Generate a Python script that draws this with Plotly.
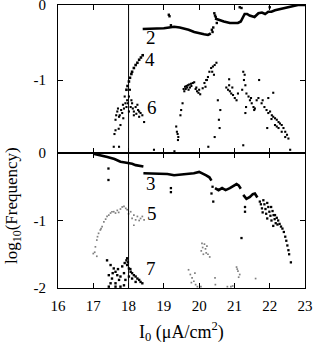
import plotly.graph_objects as go

# ---------------- top panel ----------------
s2_curve_x = [18.40, 18.6, 18.8, 19.0, 19.15, 19.29, 19.45, 19.57, 19.7, 19.86, 20.0, 20.14, 20.25, 20.33, None,
              20.45, 20.55, 20.7, 20.87, 21.0, 21.1, 21.18, 21.24, 21.29, 21.36, 21.43, 21.57, 21.63, 21.68, 21.78,
              21.87, 21.96, 22.05, 22.15, 22.34, 22.53, 22.67, 22.8, 23.0]
s2_curve_y = [-0.32, -0.32, -0.31, -0.31, -0.30, -0.29, -0.30, -0.31, -0.33, -0.36, -0.38, -0.39, -0.40, -0.38, None,
              -0.18, -0.20, -0.22, -0.24, -0.24, -0.24, -0.22, -0.17, -0.12, -0.12, -0.14, -0.16, -0.13, -0.11, -0.10,
              -0.12, -0.09, -0.09, -0.07, -0.05, -0.03, -0.01, 0.0, 0.0]
s2_pts_x = [19.14, 19.16, 19.2, 20.43, 20.45, 20.47, 20.5, 20.4, 21.15, 21.2, 22.0, 20.36, 20.38]
s2_pts_y = [-0.13, -0.15, -0.27, -0.11, -0.14, -0.16, -0.24, -0.30, -0.03, -0.04, -0.03, -0.33, -0.36]

s4_x = [17.94, 17.97, 18.01, 18.04, 18.08, 18.1, 18.15, 18.2, 18.25, 18.3, 18.35, 18.4]
s4_y = [-1.13, -1.08, -1.02, -0.97, -0.92, -0.89, -0.84, -0.80, -0.77, -0.73, -0.70, -0.67]

s6_x = [17.58, 17.73, 17.63, 17.77, 17.63, 17.75, 17.68, 17.79, 17.87, 17.91, 17.96, 18.01, 17.89, 17.94, 18.06,
        18.10, 18.15, 18.20, 18.25, 18.30, 18.34, 18.39, 18.44, 18.15, 18.30, 17.82, 17.73, 17.65, 17.85, 18.01,
        18.08, 18.04, 17.70, 17.84, 18.12, 18.22, 17.98, 17.60, 17.72, 18.27,
        18.72, 19.3, 19.35, 19.37, 19.39, 19.41, 19.40, 19.47, 19.49, 19.53,
        19.56, 19.6, 19.64, 19.68, 19.72, 19.77, 19.82, 19.86, 19.62, 19.66, 19.7, 19.78, 19.9, 19.94, 19.98,
        20.03, 20.0, 19.92, 19.58, 19.74,
        20.10, 20.15, 20.2, 20.25, 20.29, 20.34, 20.39, 20.44, 20.49, 20.37, 20.42, 20.18, 20.22,
        20.53, 20.6, 20.56, 20.58, 20.44, 20.26,
        20.77, 20.82, 20.87, 20.91, 20.96, 21.01, 21.06, 20.94, 20.85, 21.1, 20.85,
        21.25, 21.29, 21.27, 21.31, 21.22, 21.34, 21.7, 21.33, 21.31, 21.25,
        21.4, 21.44, 21.49, 21.54, 21.58, 21.47, 21.63, 21.68, 21.56, 22.1, 21.96,
        21.77, 21.85, 21.91, 21.96, 22.01, 22.06, 22.1, 22.15, 22.2, 22.25, 22.29, 22.34, 22.39, 22.44, 22.49,
        22.53, 22.58, 22.15, 22.25, 22.34, 22.44, 21.93, 22.05, 22.2, 21.8]
s6_y = [-1.89, -1.89, -1.67, -1.60, -1.53, -1.47, -1.42, -1.40, -1.38, -1.31, -1.27, -1.22, -1.22, -1.36, -1.36,
        -1.31, -1.42, -1.36, -1.33, -1.42, -1.44, -1.47, -1.56, -1.47, -1.49, -1.44, -1.49, -1.47, -1.51, -1.42,
        -1.27, -1.13, -1.38, -1.33, -1.38, -1.45, -1.31, -1.72, -1.65, -1.40,
        -1.93, -1.95, -1.62, -1.69, -1.72, -1.76, -1.80, -1.47, -1.40, -1.31,
        -1.12, -1.09, -1.08, -1.07, -1.06, -1.05, -1.04, -1.03, -1.12, -1.10, -1.13, -1.08, -1.12, -1.15, -1.17,
        -1.19, -1.13, -1.10, -1.15, -1.10,
        -1.11, -1.04, -1.00, -0.96, -0.89, -0.84, -0.82, -0.80, -0.77, -0.89, -0.93, -1.09, -1.00,
        -1.27, -1.40, -1.53, -1.64, -1.76, -1.89,
        -1.10, -1.13, -1.15, -1.18, -1.20, -1.24, -1.27, -1.10, -1.07, -1.18, -0.99,
        -0.89, -0.93, -1.00, -1.07, -1.13, -1.18, -1.00, -1.36, -1.44, -1.87,
        -1.22, -1.27, -1.31, -1.36, -1.38, -1.24, -1.27, -1.24, -1.40, -1.17, -1.24,
        -1.31, -1.36, -1.40, -1.44, -1.42, -1.47, -1.49, -1.51, -1.53, -1.56, -1.58, -1.60, -1.64, -1.69, -1.73,
        -1.78, -1.93, -1.60, -1.64, -1.69, -1.76, -1.64, -1.52, -1.62, -1.27]

# ---------------- bottom panel ----------------
s3_curve_x = [17.0, 17.2, 17.4, 17.6, 17.77, 17.9, 18.01, 18.1, 18.2, 18.3, 18.42, None,
              18.42, 18.6, 18.8, 19.0, 19.1, 19.29, 19.5, 19.67, 19.85, 20.0, 20.1, 20.2, 20.29, 20.35, None,
              20.45, 20.55, 20.65, 20.75, 20.87, 20.95, 21.06, 21.12, 21.18, None,
              21.25, 21.34, 21.44, 21.52, 21.58, 21.65]
s3_curve_y = [-0.01, -0.03, -0.06, -0.09, -0.13, -0.14, -0.15, -0.16, -0.18, -0.19, -0.20, None,
              -0.30, -0.30, -0.30, -0.31, -0.31, -0.33, -0.32, -0.31, -0.30, -0.28, -0.30, -0.33, -0.36, -0.41, None,
              -0.52, -0.55, -0.52, -0.55, -0.52, -0.49, -0.46, -0.48, -0.53, None,
              -0.62, -0.68, -0.65, -0.61, -0.60, -0.66]
s3_pts_x = [21.72, 21.75, 21.78, 21.8, 21.82, 21.85, 21.88, 21.9, 21.93, 21.93, 21.96, 21.99, 22.02, 22.05,
            22.04, 22.08, 22.11, 22.14, 22.17, 22.15, 22.2, 22.24, 22.28, 22.32, 22.36, 22.4, 22.44, 22.47, 22.5,
            22.53, 22.55, 22.6, 22.1, 22.22, 20.35, 20.4, 20.38, 21.3, 21.3, 21.2, 17.43, 17.43, 19.2, 19.2]
s3_pts_y = [-0.72, -0.76, -0.82, -0.88, -0.70, -0.76, -0.83, -0.90, -0.97, -0.74, -0.80, -0.87, -0.93, -1.00,
            -0.80, -0.86, -0.92, -0.98, -1.04, -0.92, -0.96, -1.00, -1.05, -1.09, -1.12, -1.17, -1.24, -1.30, -1.37,
            -1.44, -1.50, -1.62, -1.08, -1.06, -0.60, -0.72, -0.50, -0.80, -0.87, -1.26, -0.23, -0.40, -0.52, -0.58]

s5_x = [17.0, 17.1, 17.06, 17.1, 17.15, 17.2, 17.25, 17.3, 17.39, 17.49, 17.58, 17.68, 17.77, 17.82, 17.87,
        17.96, 18.06, 18.15, 18.25, 18.34, 18.44, 18.1, 18.2, 18.3, 18.39, 18.15, 17.63, 17.53, 17.44, 17.72,
        17.92, 18.0, 17.35, 17.22, 17.12, 17.04,
        20.06, 20.1, 20.15, 20.18, 20.2, 20.25, 20.3, 20.12, 20.22, 20.08, 19.7, 19.75, 19.8, 19.85, 19.9,
        19.95, 19.78, 19.88, 20.45, 20.46, 21.06, 21.1, 21.15, 21.12, 21.08, 20.8, 20.9, 20.95, 21.6, 20.05]
s5_y = [-1.49, -1.53, -1.39, -1.29, -1.19, -1.14, -1.09, -1.02, -0.94, -0.89, -0.87, -0.85, -0.83, -0.80, -0.79,
        -0.84, -0.87, -0.92, -0.94, -0.97, -0.99, -0.97, -0.99, -1.00, -0.94, -1.07, -0.89, -0.87, -0.92, -0.88,
        -0.82, -0.90, -0.98, -1.12, -1.24, -1.47,
        -1.45, -1.40, -1.35, -1.42, -1.48, -1.50, -1.54, -1.50, -1.38, -1.34, -1.73, -1.80, -1.85, -1.90, -1.95,
        -1.98, -1.92, -1.78, -1.85, -1.95, -1.69, -1.75, -1.80, -1.84, -1.72, -1.98, -1.98, -1.97, -1.86, -1.98]

s7_x = [17.39, 17.49, 17.58, 17.63, 17.68, 17.44, 17.53, 17.49, 17.63, 17.73, 17.77, 17.87, 17.82, 17.89, 17.94,
        17.96, 18.01, 18.06, 18.1, 18.15, 18.2, 18.25, 18.3, 18.34, 18.39, 18.1, 18.2, 18.01, 17.91, 17.87,
        17.63, 17.77, 17.44, 17.96, 17.98, 18.05, 17.7, 17.55]
s7_y = [-1.59, -1.66, -1.71, -1.76, -1.81, -1.81, -1.86, -1.93, -1.93, -1.88, -1.83, -1.78, -1.68, -1.63, -1.59,
        -1.66, -1.71, -1.76, -1.78, -1.81, -1.83, -1.86, -1.88, -1.91, -1.93, -1.86, -1.91, -1.83, -1.88, -1.96,
        -1.98, -1.98, -1.98, -1.56, -1.62, -1.72, -1.72, -1.78]

labels_top = [("2", 18.45, -0.43), ("4", 18.42, -0.72), ("6", 18.46, -1.36)]
labels_bot = [("3", 18.44, -0.45), ("5", 18.46, -0.90), ("7", 18.44, -1.71)]

x_ticks = [16, 17, 18, 19, 20, 21, 22, 23]

FONT = "Liberation Serif"
fig = go.Figure()

def dots(x, y, xa, ya, size=2.4, color="black"):
    fig.add_trace(go.Scatter(x=x, y=y, xaxis=xa, yaxis=ya, mode="markers",
                             marker=dict(symbol="square", size=size, color=color, line=dict(width=0)),
                             showlegend=False, hoverinfo="skip"))

def curve(x, y, xa, ya):
    fig.add_trace(go.Scatter(x=x, y=y, xaxis=xa, yaxis=ya, mode="lines",
                             line=dict(color="black", width=2.6), connectgaps=False,
                             showlegend=False, hoverinfo="skip"))

curve(s2_curve_x, s2_curve_y, "x2", "y2")
dots(s2_pts_x, s2_pts_y, "x2", "y2")
dots(s4_x, s4_y, "x2", "y2", size=2.6)
dots(s6_x, s6_y, "x2", "y2", size=2.1)

curve(s3_curve_x, s3_curve_y, "x", "y")
dots(s3_pts_x, s3_pts_y, "x", "y", size=2.3)
dots(s5_x, s5_y, "x", "y", size=1.7, color="#808080")
dots(s7_x, s7_y, "x", "y", size=2.4)

axis_common = dict(showline=True, linecolor="black", linewidth=1, mirror="ticks", ticks="inside",
                   ticklen=5, tickcolor="black", tickwidth=1, showgrid=False, zeroline=False,
                   automargin=False, ticklabeloverflow="allow",
                   tickfont=dict(family=FONT, size=15, color="black"))

top_frac = 135 / 283
fig.update_layout(
    width=316, height=344,
    margin=dict(l=58, r=11, t=5, b=56, autoexpand=False),
    paper_bgcolor="white", plot_bgcolor="white",
    font=dict(family=FONT, color="black"),
    xaxis=dict(domain=[0, 1], range=[16, 23], anchor="y", tickvals=x_ticks,
               ticktext=[str(v) for v in x_ticks], ticklabelstandoff=4, **axis_common),
    xaxis2=dict(domain=[0, 1], range=[16, 23], anchor="y2", matches="x", tickvals=x_ticks,
                showticklabels=False, **axis_common),
    yaxis=dict(domain=[0, top_frac], range=[-2, 0], anchor="x", tickvals=[0, -1, -2],
               ticktext=["0", "-1", "-2"], ticklabelstandoff=8, **axis_common),
    yaxis2=dict(domain=[top_frac, 1], range=[-1.973, 0], anchor="x2", tickvals=[0, -1],
                ticktext=["0", "-1"], ticklabelstandoff=8, **axis_common),
)

fig.add_shape(type="line", xref="x", yref="paper", x0=18, x1=18, y0=0, y1=1,
              line=dict(color="black", width=1))

for t, x, y in labels_top:
    fig.add_annotation(text=t, x=x, y=y, xref="x2", yref="y2", xanchor="left", yanchor="middle",
                       showarrow=False, font=dict(family=FONT, size=19, color="black"))
for t, x, y in labels_bot:
    fig.add_annotation(text=t, x=x, y=y, xref="x", yref="y", xanchor="left", yanchor="middle",
                       showarrow=False, font=dict(family=FONT, size=19, color="black"))

fig.add_annotation(text="log<sub>10</sub>(Frequency)", xref="paper", yref="paper",
                   x=-0.182, y=0.29, textangle=-90, showarrow=False,
                   xanchor="center", yanchor="middle",
                   font=dict(family=FONT, size=17, color="black"))
fig.add_annotation(text="I<sub>0</sub> (μA/cm<sup>2</sup>)", xref="paper", yref="paper",
                   x=0.498, y=-0.152, showarrow=False, xanchor="center", yanchor="middle",
                   font=dict(family=FONT, size=18, color="black"))

fig.write_html("out.html", config={"displayModeBar": False},
               post_script="document.body.style.margin='0';document.body.style.overflow='hidden';")
